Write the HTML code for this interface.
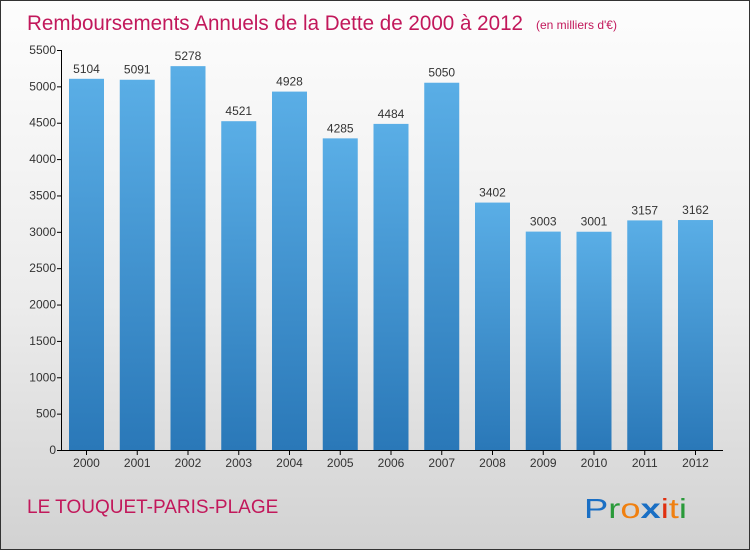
<!DOCTYPE html>
<html><head><meta charset="utf-8"><style>
body{margin:0}
#c{position:relative;width:748px;height:548px;border:1px solid #333;background:linear-gradient(#fdfdfd 0%,#ececec 55%,#d2d2d2 100%);font-family:"Liberation Sans",sans-serif;overflow:hidden}
</style></head><body>
<div id="c">
<svg width="748" height="548">
<defs><linearGradient id="bg" x1="0" y1="0" x2="0" y2="1"><stop offset="0" stop-color="#5aaee6"/><stop offset="1" stop-color="#2a78b8"/></linearGradient></defs>
<text x="26" y="29" font-size="21" fill="#c2185b" textLength="496" lengthAdjust="spacingAndGlyphs">Remboursements Annuels de la Dette de 2000 à 2012</text>
<text x="535" y="28" font-size="12" fill="#c2185b">(en milliers d'€)</text>
<g id="plot"></g>
<text x="26" y="512" font-size="19" fill="#c2185b">LE TOUQUET-PARIS-PLAGE</text>
<g font-size="28" font-family="'Liberation Sans',sans-serif">
<text x="583" y="517" textLength="103" lengthAdjust="spacingAndGlyphs"><tspan fill="#1a6fc4">P</tspan><tspan fill="#2a9a3a">r</tspan><tspan fill="#f08010">o</tspan><tspan fill="#1a6fc4" font-weight="bold">x</tspan><tspan fill="#e03010">i</tspan><tspan fill="#f08010">t</tspan><tspan fill="#2a9a3a">i</tspan></text></g>
</svg></div>
<script>
const years=["2000","2001","2002","2003","2004","2005","2006","2007","2008","2009","2010","2011","2012"];
const values=[5104,5091,5278,4521,4928,4285,4484,5050,3402,3003,3001,3157,3162];
const ticks=[0,500,1000,1500,2000,2500,3000,3500,4000,4500,5000,5500];
const NS="http://www.w3.org/2000/svg";
const g=document.getElementById('plot');
const y=v=>449-v*(400/5500);
const x=i=>85.5+i*50.75;
function mk(t,a,txt){const e=document.createElementNS(NS,t);for(const k in a)e.setAttribute(k,a[k]);if(txt!==undefined)e.textContent=txt;g.appendChild(e);return e;}
let ax=mk('line',{x1:60.5,y1:y(5500),x2:60.5,y2:449.5,stroke:'#000'});


let xa=mk('line',{x1:60,y1:449.5,x2:722,y2:449.5,stroke:'#000'});


ticks.forEach(t=>{
 let l=mk('line',{x1:56,y1:y(t)+.5,x2:61,y2:y(t)+.5,stroke:'#000'});
 
 
 let tx=mk('text',{x:55,y:y(t)+4,'font-size':12,'text-anchor':'end',fill:'#333'},t);
 
 
});
values.forEach((v,i)=>{
 let r=mk('rect',{x:x(i)-17.5,y:y(v),width:35,height:449-y(v),fill:'url(#bg)'});
 
 
 let vt=mk('text',{x:x(i),y:y(v)-6,'font-size':12,'text-anchor':'middle',fill:'#333'},v);
 
 
 let tk=mk('line',{x1:x(i),y1:449,x2:x(i),y2:454,stroke:'#000'});
 
 
 let yt=mk('text',{x:x(i),y:466,'font-size':12,'text-anchor':'middle',fill:'#333'},years[i]);
 
 
});
</script>
</body></html>
